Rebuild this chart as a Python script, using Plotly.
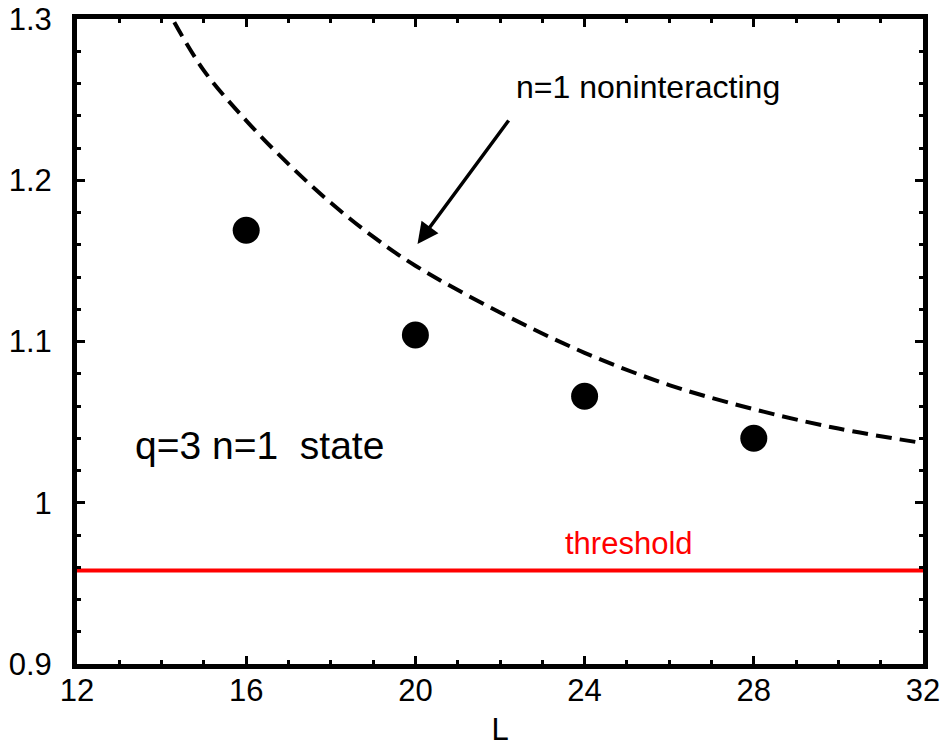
import plotly.graph_objects as go

# data points (q=3 n=1 state)
L_points = [16, 20, 24, 28]
E_points = [1.169, 1.104, 1.066, 1.040]

# n=1 noninteracting curve
L_curve = [14.3, 15, 16, 17, 18, 19, 20, 22, 24, 26, 28, 30, 32]
E_curve = [1.298, 1.268, 1.237, 1.210, 1.186, 1.165, 1.147, 1.118, 1.093, 1.073, 1.058, 1.046, 1.037]

# threshold
L_thr = [12, 32]
E_thr = [0.958, 0.958]

x_ticks = [12, 16, 20, 24, 28, 32]
y_ticks = [0.9, 1.0, 1.1, 1.2, 1.3]
y_tick_text = ["0.9", "1", "1.1", "1.2", "1.3"]

FONT = "Liberation Sans, Arial, Helvetica, sans-serif"

fig = go.Figure()
fig.add_trace(go.Scatter(x=L_thr, y=E_thr, mode="lines",
                         line=dict(color="#ff0000", width=4), showlegend=False))
fig.add_trace(go.Scatter(x=L_curve, y=E_curve, mode="lines",
                         line=dict(color="black", width=4, dash="16px,8px", shape="spline"),
                         showlegend=False))
fig.add_trace(go.Scatter(x=L_points, y=E_points, mode="markers",
                         marker=dict(color="black", size=27), showlegend=False))

fig.add_annotation(x=20.05, y=1.1605, ax=22.23, ay=1.238, xref="x", yref="y", axref="x", ayref="y",
                   text="", showarrow=True, arrowhead=2, arrowsize=1.2, arrowwidth=3.5, arrowcolor="black")
fig.add_annotation(x=25.5, y=1.258, xref="x", yref="y", text="n=1 noninteracting",
                   showarrow=False, font=dict(family=FONT, size=32, color="black"))
fig.add_annotation(x=16.32, y=1.0355, xref="x", yref="y", text="q=3 n=1  state",
                   showarrow=False, font=dict(family=FONT, size=39, color="black"))
fig.add_annotation(x=25.04, y=0.9745, xref="x", yref="y", text="threshold",
                   showarrow=False, font=dict(family=FONT, size=31, color="#ff0000"))

axis_common = dict(showline=True, linewidth=5, linecolor="black", mirror="allticks",
                   ticks="inside", ticklen=8, tickwidth=2.5, tickcolor="black",
                   showgrid=False, zeroline=False, automargin=False,
                   ticklabeloverflow="allow",
                   tickfont=dict(family=FONT, size=31, color="black"))

fig.update_xaxes(range=[12, 32], tickvals=x_ticks,
                 minor=dict(dtick=1, ticks="inside", ticklen=4, tickwidth=2.5, tickcolor="black", showgrid=False),
                 title=dict(text="L", font=dict(family=FONT, size=31, color="black"), standoff=16),
                 ticklabelstandoff=-5,
                 **axis_common)
fig.update_yaxes(range=[0.9, 1.3], tickvals=y_ticks, ticktext=y_tick_text,
                 minor=dict(dtick=0.02, ticks="inside", ticklen=4, tickwidth=2.5, tickcolor="black", showgrid=False),
                 ticklabelstandoff=14,
                 **axis_common)

fig.update_layout(width=942, height=747, margin=dict(l=77, r=19, t=19, b=83),
                  plot_bgcolor="white", paper_bgcolor="white",
                  font=dict(family=FONT, color="black"))

# remove the default 8px page margin so the figure fills the window exactly
fig.write_html("out.html", config={"displayModeBar": False},
               post_script="document.body.style.margin='0';")
